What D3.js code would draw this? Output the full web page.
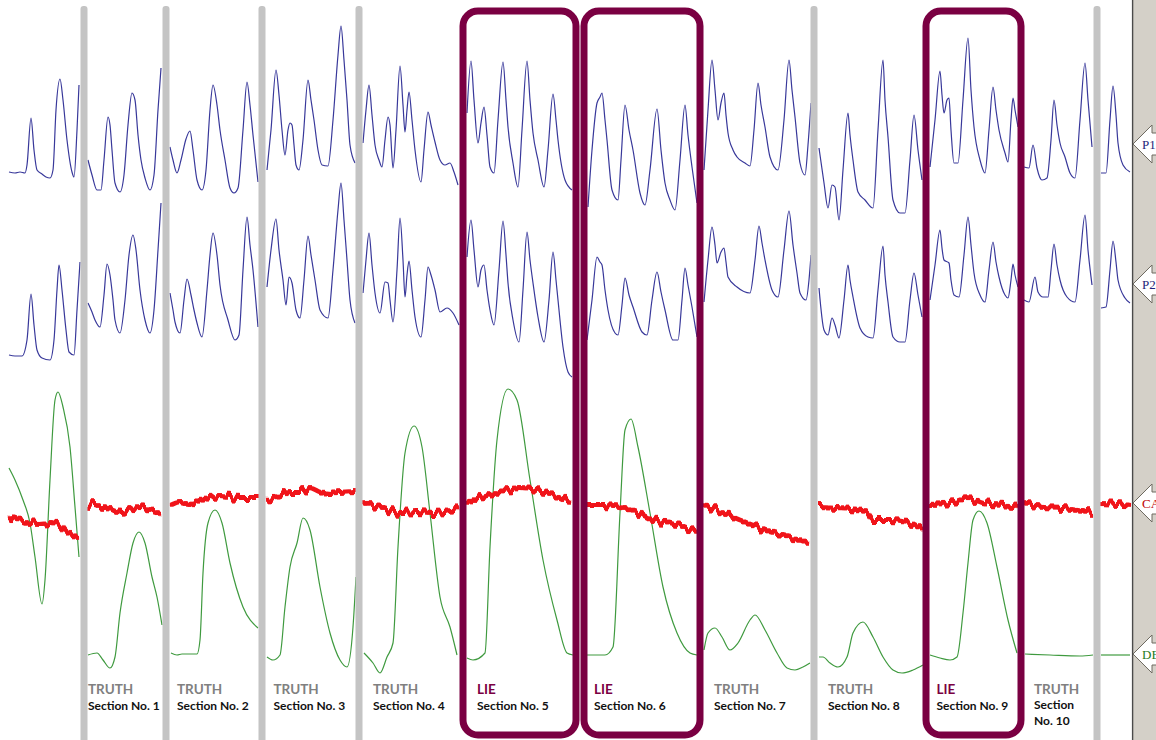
<!DOCTYPE html>
<html>
<head>
<meta charset="utf-8">
<script src="https://cdn.jsdelivr.net/npm/d3@7"></script>
<style>
  body { margin: 0; background: #fff; }
  svg { display: block; }
</style>
</head>
<body>
<div id="chart"></div>
<script>
// ---- data (time units along x, pen position along y) ----
var sectionNames = ["Section No. 1", "Section No. 2", "Section No. 3", "Section No. 4", "Section No. 5",
                    "Section No. 6", "Section No. 7", "Section No. 8", "Section No. 9", "Section No. 10"];
var verdicts = ["TRUTH", "TRUTH", "TRUTH", "TRUTH", "LIE", "LIE", "TRUTH", "TRUTH", "LIE", "TRUTH"];
// event marks: section i runs from marks[i] to marks[i+1]
var marks = [84, 166, 262, 359, 463, 580, 700, 814, 926, 1021, 1097];
var channelNames = ["P1", "P2", "CA", "DE"];
var channelLevels = [144, 284, 503, 654];

var p1 = [
  [[9,172],[15,173],[20,172],[25,173],[27,165],[31,118],[34,150],[37,170],[42,174],[46,177],[50,178],[53,170],[56,110],[60,79],[63,100],[67,140],[72,172],[74,177],[77,130],[79,85]],
  [[88,160],[92,175],[97,190],[101,190],[104,160],[108,117],[110,125],[112,150],[115,183],[120,192],[124,175],[128,125],[132,93],[135,100],[138,135],[141,160],[145,178],[150,190],[154,175],[158,110],[161,68]],
  [[170,147],[173,160],[177,173],[181,160],[186,139],[190,131],[193,150],[197,180],[202,190],[206,170],[210,110],[213,85],[217,105],[220,130],[225,160],[230,188],[234,193],[238,188],[243,130],[247,82],[250,105],[253,135],[258,182]],
  [[267,170],[271,130],[276,70],[279,95],[282,130],[285,155],[288,130],[290,123],[292,125],[294,145],[296,165],[299,170],[303,140],[308,80],[311,100],[314,120],[318,150],[322,165],[328,166],[333,120],[338,55],[341,26],[344,60],[347,100],[350,145],[355,163]],
  [[363,143],[366,110],[369,85],[372,115],[375,145],[379,160],[382,167],[385,140],[388,117],[390,125],[393,168],[396,130],[400,66],[403,105],[405,132],[407,110],[409,92],[412,120],[415,150],[421,182],[424,150],[428,112],[431,125],[435,142],[440,160],[445,165],[450,163],[454,172],[458,185]],
  [[467,113],[471,61],[474,100],[478,143],[481,123],[484,107],[487,135],[490,167],[494,173],[498,120],[503,62],[506,100],[508,127],[513,163],[518,187],[522,130],[527,61],[530,100],[533,133],[538,160],[544,187],[548,150],[553,94],[556,120],[558,140],[565,180],[572,190]],
  [[588,207],[592,150],[597,103],[600,97],[602,93],[605,120],[607,140],[612,190],[618,200],[621,160],[625,105],[629,130],[633,150],[640,193],[645,205],[650,170],[657,109],[661,150],[665,183],[670,200],[675,210],[680,160],[685,105],[688,135],[692,167],[697,203]],
  [[704,170],[708,110],[712,60],[715,90],[718,120],[721,103],[724,93],[726,115],[728,133],[733,150],[737,157],[745,163],[750,166],[754,130],[758,83],[761,105],[765,127],[770,157],[778,170],[784,120],[789,60],[792,90],[795,117],[800,163],[805,175],[808,145],[811,103]],
  [[819,148],[824,183],[828,208],[832,185],[835,187],[839,220],[843,170],[848,113],[850,135],[853,160],[858,192],[865,200],[873,208],[878,130],[883,60],[885,100],[888,137],[893,200],[900,213],[905,213],[910,160],[914,115],[918,150],[922,180]],
  [[930,167],[935,120],[940,71],[942,95],[944,113],[947,100],[949,98],[951,130],[954,163],[958,163],[963,100],[968,38],[971,90],[974,127],[980,160],[985,173],[989,130],[993,87],[996,110],[999,130],[1005,153],[1008,162],[1011,120],[1013,98],[1015,110],[1018,127]],
  [[1024,167],[1029,168],[1033,145],[1037,168],[1042,180],[1047,178],[1051,140],[1054,100],[1057,125],[1060,143],[1065,157],[1070,173],[1075,178],[1080,120],[1085,63],[1088,100],[1092,147]],
  [[1101,173],[1106,173],[1110,120],[1113,86],[1116,115],[1118,143],[1123,165],[1130,172]]
];

var p2 = [
  [[9,355],[15,356],[22,356],[27,340],[31,294],[34,325],[37,350],[42,358],[50,360],[54,340],[57,290],[59,265],[62,290],[66,330],[69,352],[74,355],[77,310],[80,262]],
  [[88,303],[92,312],[95,320],[100,327],[104,295],[107,264],[110,275],[113,300],[115,320],[120,333],[125,300],[129,255],[133,235],[136,250],[140,290],[145,320],[150,333],[154,310],[158,250],[161,203]],
  [[170,293],[173,310],[175,322],[180,333],[184,300],[187,279],[191,295],[194,310],[197,323],[202,337],[207,290],[210,255],[213,233],[217,255],[220,285],[228,320],[235,340],[239,335],[243,270],[247,217],[250,245],[253,270],[258,327]],
  [[267,287],[271,250],[276,219],[279,250],[283,280],[286,305],[289,277],[292,283],[296,310],[300,318],[304,280],[308,236],[311,255],[315,280],[320,310],[328,318],[333,270],[338,210],[341,183],[344,220],[347,260],[350,300],[355,323]],
  [[363,293],[366,260],[369,233],[372,265],[375,293],[380,313],[385,282],[388,283],[390,300],[393,322],[397,270],[400,218],[403,260],[405,297],[407,275],[409,261],[412,290],[415,317],[421,337],[425,300],[428,267],[431,275],[435,290],[440,312],[447,308],[453,313],[459,325]],
  [[467,257],[471,220],[474,250],[478,287],[481,270],[484,265],[487,290],[490,310],[494,325],[499,270],[503,221],[506,255],[508,283],[513,320],[519,342],[523,290],[527,232],[530,260],[533,283],[538,317],[544,342],[549,300],[553,252],[556,280],[558,300],[563,347],[568,372],[572,377]],
  [[587,340],[592,300],[597,257],[600,262],[602,265],[605,290],[608,310],[615,333],[618,335],[622,305],[625,278],[629,295],[633,307],[642,332],[647,335],[652,300],[657,272],[661,292],[665,310],[673,340],[678,340],[682,300],[685,268],[688,285],[692,307],[697,337]],
  [[704,302],[708,260],[712,227],[715,245],[717,263],[721,252],[724,248],[726,262],[728,277],[737,287],[750,293],[755,260],[759,226],[762,243],[765,260],[772,290],[778,297],[784,250],[789,211],[793,245],[797,273],[800,293],[806,300],[809,280],[811,255]],
  [[819,288],[824,330],[828,335],[832,318],[835,325],[839,338],[844,300],[848,265],[850,280],[853,297],[860,328],[868,337],[873,338],[878,290],[883,246],[885,275],[888,302],[893,337],[900,342],[905,342],[910,300],[914,273],[918,295],[922,317]],
  [[930,300],[935,265],[940,230],[942,248],[944,260],[949,263],[951,280],[954,295],[959,297],[964,255],[968,217],[971,245],[974,273],[980,295],[985,302],[989,270],[993,242],[996,262],[999,277],[1005,295],[1008,298],[1011,280],[1013,264],[1015,275],[1018,287]],
  [[1024,300],[1029,302],[1035,277],[1038,292],[1043,297],[1048,297],[1051,270],[1054,244],[1057,265],[1060,280],[1067,297],[1075,302],[1080,260],[1085,215],[1088,250],[1092,285]],
  [[1101,308],[1106,307],[1110,270],[1113,241],[1116,262],[1118,280],[1125,298],[1130,303]]
];

var ca = [
  [[9,516],[20,520],[30,523],[40,524],[50,523],[60,525],[65,531],[70,535],[78,537]],
  [[88,505],[95,504],[100,506],[110,509],[122,513],[130,509],[140,507],[150,510],[160,513]],
  [[171,505],[180,502],[190,504],[200,500],[210,498],[220,496],[230,497],[240,498],[258,498]],
  [[267,500],[280,496],[290,492],[300,492],[310,488],[320,492],[330,494],[340,492],[355,491]],
  [[363,502],[383,508],[400,513],[417,512],[433,513],[450,511],[458,508]],
  [[467,503],[483,497],[500,492],[520,488],[537,490],[553,495],[570,502]],
  [[587,505],[603,505],[620,507],[637,512],[653,520],[670,523],[683,527],[697,532]],
  [[704,505],[717,510],[733,517],[750,524],[770,532],[790,537],[808,543]],
  [[819,507],[837,508],[857,510],[867,513],[873,520],[890,520],[907,522],[922,530]],
  [[930,505],[950,503],[968,498],[983,503],[1003,505],[1017,508]],
  [[1024,503],[1043,507],[1063,508],[1077,510],[1092,513]],
  [[1101,503],[1117,504],[1130,506]]
];

var de = [
  [[9,468],[15,480],[23,500],[30,523],[35,557],[42,604],[45,580],[50,480],[55,400],[58,392],[63,407],[70,447],[75,507],[79,557]],
  [[88,655],[97,653],[103,660],[110,668],[115,657],[120,613],[127,573],[133,543],[139,532],[145,543],[152,577],[157,597],[162,625]],
  [[171,653],[177,655],[182,654],[197,654],[200,640],[203,573],[208,523],[215,510],[222,523],[230,563],[243,607],[258,628]],
  [[267,657],[273,660],[280,655],[285,607],[290,567],[297,543],[303,518],[310,530],[320,587],[330,633],[340,660],[347,667],[353,627],[356,577]],
  [[364,653],[373,663],[380,673],[387,657],[393,643],[398,547],[405,453],[414,426],[422,447],[430,513],[440,597],[450,627],[457,655]],
  [[467,658],[473,660],[485,653],[490,547],[497,440],[508,389],[517,400],[530,480],[543,560],[557,620],[567,653],[573,655]],
  [[587,655],[605,655],[613,647],[620,513],[625,430],[631,419],[638,447],[650,513],[663,587],[677,633],[690,653],[697,655]],
  [[704,650],[708,633],[715,628],[722,637],[730,650],[738,643],[750,620],[755,615],[765,630],[777,653],[787,668],[795,670],[803,667],[810,663]],
  [[819,657],[823,657],[830,663],[838,667],[847,657],[853,633],[863,622],[873,637],[883,657],[893,670],[902,673],[913,670],[923,665]],
  [[930,655],[940,658],[950,660],[957,657],[963,613],[968,563],[973,520],[979,511],[987,523],[997,567],[1008,620],[1017,653]],
  [[1025,654],[1050,655],[1080,656],[1093,655]],
  [[1101,655],[1130,655]]
];

// ---- drawing ----
var width = 1156,
    height = 740;

var svg = d3.select("#chart").append("svg")
    .attr("width", width)
    .attr("height", height);

var x = d3.scaleLinear().domain([0, 1156]).range([0, width]);
var y = d3.scaleLinear().domain([0, 740]).range([0, height]);

var lieColor = "#7a0042";

// jagged pen for the cardio channel
var defs = svg.append("defs");
var jag = defs.append("filter")
    .attr("id", "jag")
    .attr("filterUnits", "userSpaceOnUse")
    .attr("x", 0).attr("y", 0)
    .attr("width", width).attr("height", height)
    .attr("color-interpolation-filters", "sRGB");
jag.append("feTurbulence")
    .attr("type", "fractalNoise")
    .attr("baseFrequency", "0.22 0")
    .attr("numOctaves", 1)
    .attr("seed", 4)
    .attr("result", "noise");
var ct = jag.append("feComponentTransfer").attr("in", "noise").attr("result", "map");
ct.append("feFuncR").attr("type", "linear").attr("slope", 0).attr("intercept", 0.5);
ct.append("feFuncG").attr("type", "linear").attr("slope", 1.8).attr("intercept", -0.4);
ct.append("feFuncA").attr("type", "linear").attr("slope", 0).attr("intercept", 1);
jag.append("feDisplacementMap")
    .attr("in", "SourceGraphic")
    .attr("in2", "map")
    .attr("scale", 10)
    .attr("xChannelSelector", "R")
    .attr("yChannelSelector", "G")
    .attr("result", "wob");
jag.append("feMorphology")
    .attr("in", "wob")
    .attr("operator", "dilate")
    .attr("radius", "0.5");

// right side panel
svg.append("rect")
    .attr("x", x(1133)).attr("y", 0)
    .attr("width", width - x(1133)).attr("height", height)
    .attr("fill", "#d4d0c8");
svg.append("line")
    .attr("x1", x(1132.6)).attr("x2", x(1132.6))
    .attr("y1", 0).attr("y2", height)
    .attr("stroke", "#4a4a4a")
    .attr("stroke-width", 1.4);

var line = d3.line()
    .x(d => x(d[0]))
    .y(d => y(d[1]))
    .curve(d3.curveMonotoneX);

function drawTrace(segs, color, w, filter) {
    var g = svg.append("g");
    if (filter) g.attr("filter", filter);
    g.selectAll("path")
        .data(segs)
        .enter()
        .append("path")
        .attr("d", d => line(d))
        .attr("fill", "none")
        .attr("stroke", color)
        .attr("stroke-width", w)
        .attr("stroke-linejoin", "round");
}

drawTrace(p1, "#38389a", 1.2);
drawTrace(p2, "#38389a", 1.2);
drawTrace(de, "#3f9a3f", 1.2);
drawTrace(ca, "#f0141a", 2.1, "url(#jag)");

// gray separators where neither neighbour is a LIE section
var bars = [];
for (let i = 0; i < marks.length; ++i) {
    var left = verdicts[i - 1],
        right = verdicts[i];
    if (left != "LIE" && right != "LIE") bars.push(marks[i]);
}
svg.selectAll(".sep")
    .data(bars)
    .enter()
    .append("rect")
    .attr("class", "sep")
    .attr("x", d => x(d) - 3.5)
    .attr("y", 6)
    .attr("width", 7)
    .attr("height", height)
    .attr("rx", 3)
    .attr("fill", "#c4c4c4");

// boxes round the LIE sections
var boxes = [];
for (let i = 0; i < verdicts.length; ++i) {
    if (verdicts[i] != "LIE") continue;
    var a = marks[i] + (verdicts[i - 1] == "LIE" ? 4 : 0),
        b = marks[i + 1] - (verdicts[i + 1] == "LIE" ? 4 : 0);
    boxes.push([a, b]);
}
svg.selectAll(".box")
    .data(boxes)
    .enter()
    .append("rect")
    .attr("class", "box")
    .attr("x", d => x(d[0]))
    .attr("y", 11)
    .attr("width", d => x(d[1]) - x(d[0]))
    .attr("height", 724)
    .attr("rx", 15)
    .attr("fill", "none")
    .attr("stroke", lieColor)
    .attr("stroke-width", 7);

// section labels
var labels = svg.selectAll(".lab")
    .data(sectionNames)
    .enter()
    .append("g")
    .attr("class", "lab")
    .attr("transform", (d, i) => {
        var c = (x(marks[i]) + x(marks[i + 1])) / 2;
        var lx = i == 9 ? x(marks[i]) + 13 : Math.min(c - 37, x(marks[i]) + 14);
        return "translate(" + lx + ",0)";
    })
    .style("font-family", "Lato, 'Open Sans', sans-serif")
    .style("font-weight", "bold");

labels.append("text")
    .attr("y", 694)
    .style("font-size", "13.5px")
    .attr("fill", (d, i) => verdicts[i] == "LIE" ? lieColor : "#808080")
    .text((d, i) => verdicts[i]);

labels.each(function (d, i) {
    var t = d3.select(this).append("text")
        .style("font-size", "12px")
        .attr("fill", "#111");
    if (i == 9) {
        var parts = d.split(" ");
        t.append("tspan").attr("x", 0).attr("y", 709).text(parts[0]);
        t.append("tspan").attr("x", 0).attr("y", 725).text(parts[1] + " " + parts[2]);
    } else {
        t.attr("y", 710).text(d);
    }
});

// channel tags on the right
var tagColors = ["#1e1e7a", "#1e1e7a", "#c00000", "#1d7a1d"];
var tags = svg.selectAll(".tag")
    .data(channelNames)
    .enter()
    .append("g")
    .attr("class", "tag")
    .attr("transform", (d, i) => "translate(" + x(1133) + "," + y(channelLevels[i]) + ")");

tags.append("path")
    .attr("d", "M0,0 L19,-19 L19,-11 L30,-11 L30,11 L19,11 L19,19 Z")
    .attr("fill", "#fff")
    .attr("stroke", "#6e6a60")
    .attr("stroke-width", 1);

tags.append("text")
    .attr("x", 9)
    .attr("y", 5)
    .style("font-family", "'Liberation Serif', 'DejaVu Serif', serif")
    .style("font-size", "13px")
    .attr("fill", (d, i) => tagColors[i])
    .text(d => d);
</script>
</body>
</html>
